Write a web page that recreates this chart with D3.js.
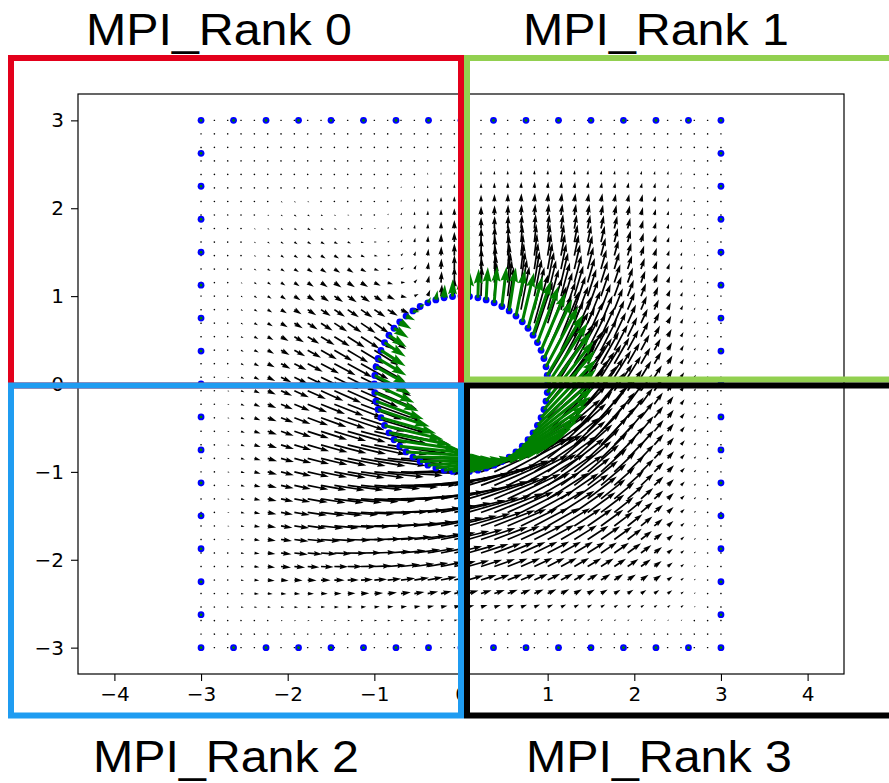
<!DOCTYPE html>
<html>
<head>
<meta charset="utf-8">
<script src="https://cdn.jsdelivr.net/npm/d3@7"></script>
<style>
  body { margin: 0; background: #ffffff; }
  svg { display: block; }
</style>
</head>
<body>
<svg id="chart" width="889" height="783"></svg>
<script>
// ---- axis set-up ----
const xTicks = [-4, -3, -2, -1, 0, 1, 2, 3, 4];
const yTicks = [-3, -2, -1, 0, 1, 2, 3];
const xLimits = [-4.42, 4.42];
const yLimits = [-3.3, 3.3];

// ---- geometry of the domain ----
const boxHalfWidth = [3];          // outer square boundary  [-3, 3] x [-3, 3]
const boxSegmentsPerSide = [16];   // 17 nodes per side
const cylinderRadius = [1];
const cylinderNodeCount = [64];
const gridPointsPerAxis = [40];    // sample grid of the flow field

// ---- rigid motion of the cylinder (boundary data) ----
const bodyVelocity = [1.0, 0.53];  // translation (u, v)
const bodySpin = [1.0];            // counter-clockwise rotation rate
const wallDecay = [1.7];           // how quickly the motion dies out towards the walls

// ---- MPI partition labels ----
const rankTitles = ["MPI_Rank 0", "MPI_Rank 1", "MPI_Rank 2", "MPI_Rank 3"];
const rankColors = ["#e3001b", "#92d050", "#1f9cf1", "#000000"];

const svg = d3.select("#chart");
const plot = { left: 78, right: 844, top: 94, bottom: 674 };

const x = d3.scaleLinear().domain(xLimits).range([plot.left, plot.right]);
const y = d3.scaleLinear().domain(yLimits).range([plot.bottom, plot.top]);

// ---- boundary nodes ----
const H = boxHalfWidth[0];
const nSeg = boxSegmentsPerSide[0];
const boxNodes = [];
for (let k = 0; k < nSeg; k++) boxNodes.push([-H + 2 * H * k / nSeg, -H]);
for (let k = 0; k < nSeg; k++) boxNodes.push([H, -H + 2 * H * k / nSeg]);
for (let k = 0; k < nSeg; k++) boxNodes.push([H - 2 * H * k / nSeg, H]);
for (let k = 0; k < nSeg; k++) boxNodes.push([-H, H - 2 * H * k / nSeg]);

const R = cylinderRadius[0];
const cylNodes = d3.range(cylinderNodeCount[0]).map(k => {
  const t = 2 * Math.PI * k / cylinderNodeCount[0];
  return [R * Math.cos(t), R * Math.sin(t)];
});

// ---- velocity: rigid motion of the body, damped towards the walls ----
function velocity(px, py) {
  const r = Math.hypot(px, py);
  const dWall = Math.max(0, H - Math.max(Math.abs(px), Math.abs(py)));
  const dBody = Math.max(0, r - R);
  const s = dBody + dWall;
  const damp = s > 0 ? Math.pow(dWall / s, wallDecay[0]) : 0;
  const w = bodySpin[0] * R;
  const ux = bodyVelocity[0] - w * py / r;
  const uy = bodyVelocity[1] + w * px / r;
  return [ux * damp, uy * damp];
}

const gridAxis = d3.range(gridPointsPerAxis[0]).map(i => -H + 2 * H * i / (gridPointsPerAxis[0] - 1));
const gridField = [];
gridAxis.forEach(gy => gridAxis.forEach(gx => {
  if (Math.hypot(gx, gy) >= R) {
    const v = velocity(gx, gy);
    gridField.push({ x: gx, y: gy, u: v[0], v: v[1] });
  }
}));
const boundaryField = boxNodes.map(p => ({ x: p[0], y: p[1], u: 0, v: 0 }))
  .concat(cylNodes.map(p => ({
    x: p[0], y: p[1],
    u: bodyVelocity[0] - bodySpin[0] * p[1],
    v: bodyVelocity[1] + bodySpin[0] * p[0]
  })));

// ---- quiver glyph (tail pivot, head 3w wide, 5w long) ----
const pxPerUnit = 40;
function arrowPath(d, w) {
  const X0 = x(d.x), Y0 = y(d.y);
  const du = d.u * pxPerUnit, dv = -d.v * pxPerUnit;
  const len = Math.hypot(du, dv) / w;
  const hl = 5, hal = 4.5, hw = 3, minsh = 5;
  let xs, ys;
  if (len < 1) {
    xs = d3.range(7).map(k => 0.5 * Math.cos(k * Math.PI / 3));
    ys = d3.range(7).map(k => 0.5 * Math.sin(k * Math.PI / 3));
  } else if (len < minsh) {
    const s = len / minsh;
    xs = [0, minsh - hal, minsh - hl, minsh, minsh - hl, minsh - hal, 0].map(v => v * s);
    ys = [0.5, 0.5, hw / 2, 0, -hw / 2, -0.5, -0.5].map(v => v * s);
  } else {
    xs = [0, len - hal, len - hl, len, len - hl, len - hal, 0];
    ys = [0.5, 0.5, hw / 2, 0, -hw / 2, -0.5, -0.5];
  }
  const a = Math.atan2(dv, du), c = Math.cos(a), s = Math.sin(a);
  return "M" + xs.map((xx, i) => {
    const px = xx * w, py = ys[i] * w;
    return (X0 + px * c - py * s).toFixed(2) + "," + (Y0 + px * s + py * c).toFixed(2);
  }).join("L") + "Z";
}

// ---- flow field arrows ----
svg.append("g").selectAll("path").data(gridField).join("path")
  .attr("d", d => arrowPath(d, 1.7))
  .attr("fill", "#000");

// ---- boundary nodes ----
svg.append("g").selectAll("circle").data(boxNodes.concat(cylNodes)).join("circle")
  .attr("cx", d => x(d[0])).attr("cy", d => y(d[1])).attr("r", 3.4)
  .attr("fill", "#0000ff");

// ---- boundary velocity arrows ----
svg.append("g").selectAll("path").data(boundaryField).join("path")
  .attr("d", d => arrowPath(d, 3))
  .attr("fill", "#008000");

// ---- axes ----
const tickFont = "'DejaVu Sans', sans-serif";
const fmt = v => (v < 0 ? "\u2212" + Math.abs(v) : String(v));
const xAxis = svg.append("g").attr("transform", `translate(0,${plot.bottom})`)
  .call(d3.axisBottom(x).tickValues(xTicks).tickFormat(fmt).tickSize(7).tickPadding(6));
const yAxis = svg.append("g").attr("transform", `translate(${plot.left},0)`)
  .call(d3.axisLeft(y).tickValues(yTicks).tickFormat(fmt).tickSize(7).tickPadding(7));
[xAxis, yAxis].forEach(g => {
  g.select(".domain").remove();
  g.selectAll(".tick line").attr("stroke", "#000").attr("stroke-width", 1.1);
  g.selectAll(".tick text").attr("font-family", tickFont).attr("font-size", 20).attr("fill", "#000");
});
svg.append("rect")
  .attr("x", plot.left).attr("y", plot.top)
  .attr("width", plot.right - plot.left).attr("height", plot.bottom - plot.top)
  .attr("fill", "none").attr("stroke", "#000").attr("stroke-width", 1.2);

// ---- MPI rank partitions ----
const rankBoxes = [
  { x0: 11, y0: 58, x1: 461, y1: 385.5 },
  { x0: 467, y0: 58, x1: 900, y1: 379.5 },
  { x0: 11, y0: 385.5, x1: 461, y1: 715.5 },
  { x0: 467, y0: 385.5, x1: 900, y1: 715.5 }
];
svg.append("g").selectAll("rect").data(rankBoxes).join("rect")
  .attr("x", d => d.x0).attr("y", d => d.y0)
  .attr("width", d => d.x1 - d.x0).attr("height", d => d.y1 - d.y0)
  .attr("fill", "none")
  .attr("stroke", (d, i) => rankColors[i])
  .attr("stroke-width", 6);

const titlePos = [
  { x: 86, y: 45 }, { x: 523, y: 45 }, { x: 93, y: 772 }, { x: 526, y: 772 }
];
svg.append("g").selectAll("text").data(rankTitles).join("text")
  .attr("x", (d, i) => titlePos[i].x).attr("y", (d, i) => titlePos[i].y)
  .attr("font-family", "'Liberation Sans', Arial, sans-serif")
  .attr("font-size", 45)
  .attr("textLength", 266).attr("lengthAdjust", "spacingAndGlyphs")
  .attr("fill", "#000")
  .text(d => d);
</script>
</body>
</html>
